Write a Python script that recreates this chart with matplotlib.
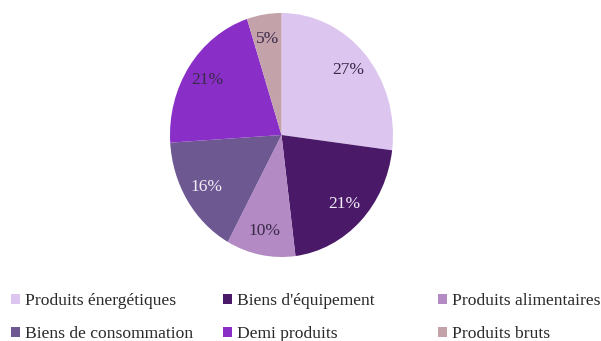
import matplotlib
matplotlib.use("Agg")
import matplotlib.pyplot as plt
from matplotlib.patches import Patch

categories = ["Produits énergétiques", "Biens d'équipement", "Produits alimentaires",
              "Biens de consommation", "Demi produits", "Produits bruts"]
shares = [27, 21, 10, 16, 21, 5]
colors = ["#dcc6f0", "#4a1968", "#b38ac4", "#6e5892", "#8a2ec8", "#c3a2aa"]
label_colors = ["#3a2a48", "#f2eef6", "#3a2a48", "#f2eef6", "#3a2a48", "#3a2a48"]

plt.rcParams["font.family"] = ["Liberation Serif", "DejaVu Serif"]

fig = plt.figure(figsize=(6.01, 3.41), dpi=100)
ax = fig.add_axes([170 / 601, 1 - 257 / 341, 223 / 601, 244 / 341])

wedges, texts, autotexts = ax.pie(
    shares, colors=colors, startangle=90, counterclock=False,
    autopct=lambda p: f"{p:.0f}%", pctdistance=0.8,
    wedgeprops=dict(linewidth=0), textprops=dict(fontsize=12.5))
for t, c in zip(autotexts, label_colors):
    t.set_color(c)
ax.set_aspect("auto")
ax.set_xlim(-1, 1)
ax.set_ylim(-1, 1)

# legend laid out in three columns, two rows
col_x = [11 / 601, 223 / 601, 438 / 601]
for col in range(3):
    idx = [col, col + 3]
    handles = [Patch(facecolor=colors[i], edgecolor="none") for i in idx]
    fig.legend(handles, [categories[i] for i in idx], loc="upper left",
               bbox_to_anchor=(col_x[col], 1 - 293 / 341), frameon=False,
               fontsize=12.6, handlelength=0.5, handleheight=0.5,
               handletextpad=0.3, labelspacing=1.0, borderaxespad=0,
               borderpad=0, labelcolor="#2a2a2a")

fig.savefig("out.png", dpi=100)
